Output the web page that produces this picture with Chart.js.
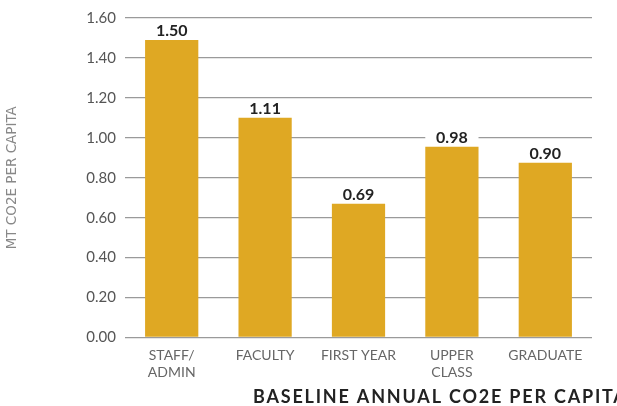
<!DOCTYPE html>
<html>
<head>
<meta charset="utf-8">
<script src="https://cdn.jsdelivr.net/npm/chart.js@4"></script>
<style>
  html, body { margin: 0; padding: 0; background: #fff; overflow: hidden; }
  #wrap { width: 617px; height: 406px; }
</style>
</head>
<body>
<div id="wrap"><canvas id="myChart" width="617" height="406"></canvas></div>
<script>
var groups = [["STAFF/", "ADMIN"], "FACULTY", "FIRST YEAR", ["UPPER", "CLASS"], "GRADUATE"];
var perCapita = [1.49, 1.10, 0.67, 0.955, 0.875];
var shownLabels = ["1.50", "1.11", "0.69", "0.98", "0.90"];
var yTicks = [0, 0.2, 0.4, 0.6, 0.8, 1.0, 1.2, 1.4, 1.6];
var yTitle = "MT CO2E PER CAPITA";
var xTitle = "BASELINE ANNUAL CO2E PER CAPITA";

// labels above each bar, with a white box that cuts the grid line
var valueLabels = {
  id: 'valueLabels',
  afterDatasetsDraw: function(chart) {
    var ctx = chart.ctx;
    var meta = chart.getDatasetMeta(0);
    ctx.save();
    ctx.font = 'bold 16px Lato';
    ctx.textAlign = 'center';
    ctx.textBaseline = 'alphabetic';
    meta.data.forEach(function(bar, i) {
      var w = bar.width;
      ctx.fillStyle = '#fff';
      ctx.fillRect(bar.x - w / 2, bar.y - 18, w, 16);
      ctx.fillStyle = '#222';
      ctx.fillText(shownLabels[i], bar.x, bar.y - 4);
    });
    ctx.restore();
  }
};

// the bottom title sits off-centre and runs past the right edge
var bottomTitle = {
  id: 'bottomTitle',
  afterDraw: function(chart) {
    var ctx = chart.ctx;
    ctx.save();
    ctx.font = 'bold 18px Lato';
    if ('letterSpacing' in ctx) ctx.letterSpacing = '1.8px';
    ctx.fillStyle = '#222';
    ctx.textAlign = 'left';
    ctx.textBaseline = 'alphabetic';
    ctx.fillText(xTitle, chart.chartArea.left + 128, 403);
    ctx.restore();
  }
};

var ctx = document.getElementById("myChart").getContext("2d");
var myChart = new Chart(ctx, {
  type: 'bar',
  data: {
    labels: groups,
    datasets: [{
      data: perCapita,
      backgroundColor: '#DFA823',
      borderWidth: 0,
      categoryPercentage: 1,
      barPercentage: 0.57
    }]
  },
  options: {
    responsive: false,
    animation: false,
    layout: { padding: { top: 16, right: 25, left: 0, bottom: 0 } },
    plugins: { legend: { display: false }, tooltip: { enabled: false } },
    scales: {
      x: {
        grid: { display: false },
        border: { display: false },
        ticks: {
          color: '#666',
          font: { family: 'Lato', size: 14, lineHeight: 1.18 },
          padding: 2,
          maxRotation: 0,
          autoSkip: false
        },
        afterFit: function(scale) { scale.height = 68.5; }
      },
      y: {
        min: 0,
        max: 1.6,
        afterBuildTicks: function(scale) {
          scale.ticks = yTicks.map(function(v) { return { value: v }; });
        },
        grid: { color: '#9a9a9a', lineWidth: 1.3, tickLength: 0, drawTicks: false },
        border: { display: false },
        ticks: {
          color: '#555',
          font: { family: 'Lato', size: 15 },
          padding: 9,
          callback: function(v) { return Number(v).toFixed(2); }
        },
        title: {
          display: true,
          text: yTitle,
          color: '#888',
          font: { family: 'DejaVu Sans', size: 13.5 },
          padding: { top: 4, bottom: 0 }
        },
        afterFit: function(scale) { scale.width = 125; }
      }
    }
  },
  plugins: [valueLabels, bottomTitle]
});
</script>
</body>
</html>
